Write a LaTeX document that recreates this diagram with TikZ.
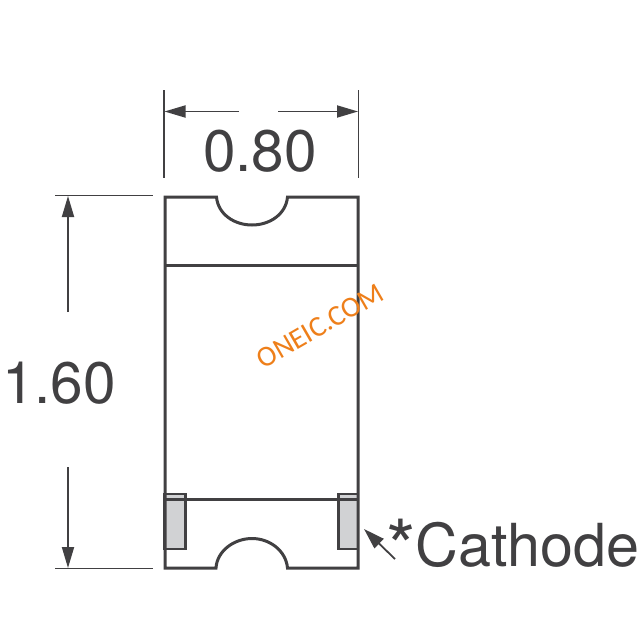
\documentclass[tikz,border=0pt]{standalone}
\usepackage{fontspec}
\setmainfont{TeX Gyre Heros}
\newfontfamily\wmfont{Carlito}
\usetikzlibrary{arrows.meta}
\definecolor{ink}{HTML}{414042}
\definecolor{padfill}{HTML}{D1D2D4}
\definecolor{wmark}{HTML}{EE7F1A}
\tikzset{
  body/.style={draw=ink,line width=3pt,line join=miter},
  pad/.style={draw=ink,fill=padfill,line width=2.6pt},
  thin/.style={draw=ink,line width=1.8pt},
  dim/.style={draw=ink,line width=1.8pt,-{Triangle[length=21pt,width=12pt]}},
  label/.style={text=ink,font=\fontsize{58.5}{58.5}\selectfont,inner sep=0pt,anchor=base},
}
\begin{document}
\begin{tikzpicture}[x=1pt,y=-1pt]
\useasboundingbox (0,0) rectangle (640,640);
\fill[white] (0,0) rectangle (640,640);
% pads
\draw[pad] (164.5,494) rectangle (185.5,549);
\draw[pad] (338.5,494) rectangle (358,549);
% body outline with notches
\draw[body] (165,197) -- (216.5,197) .. controls (218,214) and (234,225) .. (252,225)
  .. controls (270,225) and (286,214) .. (287.5,197) -- (358,197) -- (358,568)
  -- (287.5,568) .. controls (286,551) and (270,538.5) .. (252,538.5)
  .. controls (234,538.5) and (217,551) .. (216,568) -- (165,568) -- cycle;
\draw[body] (165,265.5) -- (358,265.5);
\draw[body] (165,499) -- (358,499);
% horizontal dimension
\coordinate (wl) at (164,90); \coordinate (wlb) at (164,178);
\coordinate (wr) at (358.5,90); \coordinate (wrb) at (358.5,178);
\draw[thin] (wl) -- (wlb);
\draw[thin] (wr) -- (wrb);
\coordinate (wat) at (239,111.5); \coordinate (wa) at (164.5,111.5);
\coordinate (wbt) at (278,111.5); \coordinate (wb) at (358,111.5);
\draw[dim] (wat) -- (wa);
\draw[dim] (wbt) -- (wb);
\node[label] (w) at (260,171) {0.80};
% vertical dimension
\coordinate (ht1) at (55,195.5); \coordinate (ht2) at (152.5,195.5);
\coordinate (hb1) at (55,568.5); \coordinate (hb2) at (152.5,568.5);
\draw[thin] (ht1) -- (ht2);
\draw[thin] (hb1) -- (hb2);
\coordinate (hat) at (68,312); \coordinate (ha) at (68,196);
\coordinate (hbt) at (68,467); \coordinate (hb) at (68,568);
\draw[dim] (hat) -- (ha);
\draw[dim] (hbt) -- (hb);
\node[label] (h) at (59,403) {1.60};
% cathode callout
\node[label,anchor=base west,font=\fontsize{59.3}{59.3}\selectfont] (cat) at (386,566) {\raisebox{-8pt}{\fontsize{76}{76}\selectfont *}Cathode};
\coordinate (cs) at (395,559); \coordinate (ce) at (364,529);
\draw[ink,line width=1.8pt,-{Triangle[length=21pt,width=13pt]}] (cs) -- (ce);
% watermark
\node[text=wmark,font=\wmfont\fontsize{29}{29}\selectfont,inner sep=0pt,rotate=30] (wm) at (320,326) {ONEIC.COM};
\end{tikzpicture}
\end{document}
